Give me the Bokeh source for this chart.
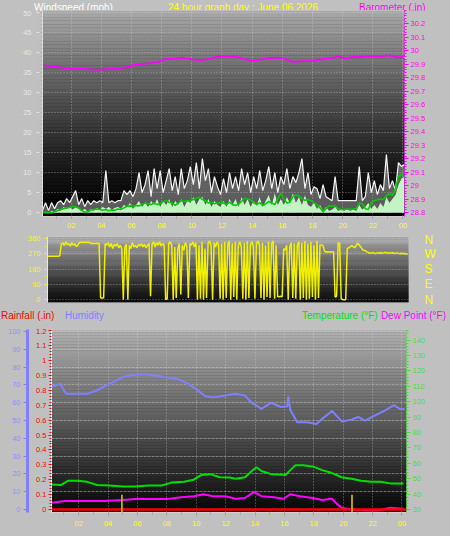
import numpy as np
from bokeh.plotting import figure
from bokeh.layouts import column, row
from bokeh.models import Range1d, LinearAxis, FixedTicker, NumeralTickFormatter, Div
from bokeh.embed import file_html
from bokeh.resources import INLINE

FONT = "Liberation Sans"
BG = "#c0c0c0"
W = 450

# ---------------- data ----------------
hour_ticks = [2, 4, 6, 8, 10, 12, 14, 16, 18, 20, 22, 24]
hour_labels = ["02", "04", "06", "08", "10", "12", "14", "16", "18", "20", "22", "00"]

wind_hours = [round(0.1 + 0.2 * i, 1) for i in range(121)]
wind_gust = [0.5, 2.5, 0.5, 2.5, 1, 2.5, 3, 2, 3.5, 2.5,
             4, 5.5, 2, 3.5, 1.5, 3, 2, 3, 2.5, 3,
             2.5, 10.5, 2.5, 3, 2.5, 3, 3, 5.5, 4.5, 5.5,
             4, 6, 10, 5, 7, 10.5, 4, 11, 6, 10.5,
             5, 8, 11, 5.5, 9, 4.5, 11, 6, 8, 11.5,
             7, 12.5, 6, 13.5, 8, 11, 5, 9, 6.5, 4.5,
             8.5, 5, 10, 6, 9, 5.5, 11, 7, 10, 5,
             9, 6, 10.5, 5.5, 8, 11.5, 6, 10, 5, 9,
             7, 11, 6, 9, 7.5, 10, 13.5, 6, 10, 4.5,
             6.5, 6, 3.5, 7, 4, 3.5, 3, 9, 3, 3,
             3, 3, 3, 3, 3, 11.5, 3, 4, 10, 5,
             8, 4.5, 7, 5.5, 14.5, 6, 8, 5.5, 12.5, 11.5,
             12]
wind_speed = [0, 0.3, 0, 0.5, 0.3, 1, 0.5, 1.5, 1, 1.5,
              0.8, 1.5, 1, 0.5, 1, 0.3, 1, 0.5, 1.2, 0.8,
              1.5, 1, 1.5, 0.8, 1.2, 1.5, 1, 2, 1.5, 2.5,
              1, 2, 3, 1.5, 2.5, 1.5, 3, 2, 3.5, 1.5,
              3, 2, 3.5, 1.5, 3, 2, 3.5, 1.5, 3, 2.5,
              4, 2, 3.5, 4, 2, 3.5, 1.5, 3, 2, 1.5,
              3, 1.5, 3.5, 2, 3.5, 1.5, 4, 2, 3.5, 1.5,
              3, 2, 4, 1.5, 3, 4.5, 2, 5, 2, 3.5,
              2, 4, 2.5, 5, 2.5, 4, 2, 4.5, 2, 1.5,
              2.5, 1, 2, 0.5, 1.5, 0.5, 0.8, 1.5, 0.5, 0.8,
              0.5, 1, 0.5, 0.8, 0.5, 2, 0.8, 1.5, 2.5, 1,
              2, 1, 2.5, 1.5, 4, 2.5, 3.5, 4.5, 7, 8.5,
              9]
wind_avg = [0, 0, 0, 0, 0.2, 0.5, 0.8, 1.0, 1.2, 1.3,
            1.6, 1.4, 1.2, 0.5, 0.1, 0.2, 0.6, 0.8, 0.9, 0.8,
            0.6, 0.8, 0.5, 0.7, 0.6, 0.9, 0.8, 1.2, 1.6, 1.7,
            1.6, 1.8, 1.7, 2.0, 2.4, 2.2, 2.0, 2.4, 2.0, 2.2,
            2.8, 3.0, 2.6, 2.4, 1.8, 2.4, 3.0, 2.8, 3.0, 3.0,
            3.3, 3.6, 3.8, 3.3, 3.0, 2.4, 2.6, 2.2, 2.4, 2.5,
            2.4, 2.0, 2.6, 2.0, 1.8, 2.2, 2.8, 3.6, 3.4, 3.2,
            2.5, 2.0, 2.5, 1.8, 2.2, 2.8, 2.4, 2.0, 3.5, 4.8,
            3.5, 2.4, 2.6, 4.0, 4.4, 4.2, 3.5, 3.1, 3.3, 3.0,
            2.5, 2.0, 1.2, 0.2, 1.0, 1.7, 1.6, 1.8, 1.0, 0.8,
            0.8, 0.9, 0.8, 0.9, 1.0, 2.4, 2.2, 1.0, 0.8, 2.5,
            3.0, 3.2, 3.4, 3.3, 4.2, 4.8, 4.3, 6.0, 9.0, 9.6,
            8.8]

baro_hours = [0.1, 1.19, 1.83, 2.92, 3.75, 4.58, 5.22, 5.86, 6.3, 7.14, 7.78, 8.23,
              8.88, 9.3, 9.95, 10.6, 11.2, 11.62, 12.26, 12.9, 13.35, 14.0, 14.6,
              15.26, 15.9, 16.42, 16.74, 17.38, 18.0, 18.66, 19.3, 19.75, 20.26,
              20.6, 21.2, 21.86, 22.5, 22.9, 23.35, 23.7, 24.05]
baro_values = [29.895, 29.879, 29.867, 29.867, 29.86, 29.867, 29.871, 29.883, 29.9,
               29.907, 29.919, 29.938, 29.943, 29.95, 29.938, 29.931, 29.943, 29.955,
               29.962, 29.96, 29.943, 29.926, 29.938, 29.95, 29.948, 29.931, 29.919,
               29.924, 29.926, 29.94, 29.948, 29.96, 29.943, 29.955, 29.955, 29.962,
               29.957, 29.967, 29.962, 29.95, 29.957]
baro_ticks = [28.8, 28.9, 29.0, 29.1, 29.2, 29.3, 29.4, 29.5, 29.6, 29.7, 29.8,
              29.9, 30.0, 30.1, 30.2]

dir_hours = [round(0.5 + 0.1 * i, 1) for i in range(239)]
wind_dir = [255, 255, 255, 255, 255, 255, 255, 255, 258, 325,
            335, 318, 340, 322, 330, 315, 335, 320, 328, 312,
            322, 336, 338, 338, 338, 338, 338, 338, 335, 330,
            330, 330, 330, 332, 330, 10, 10, 10, 330, 320,
            335, 310, 330, 300, 325, 315, 330, 305, 320, 300,
            0, 310, 325, 0, 320, 300, 335, 310, 320, 305,
            325, 315, 330, 310, 325, 305, 320, 330, 20, 325,
            340, 310, 335, 320, 340, 315, 330, 320, 0, 5,
            330, 340, 320, 0, 310, 10, 300, 330, 30, 320,
            290, 335, 315, 10, 330, 320, 340, 310, 335, 0,
            320, 5, 340, 0, 300, 10, 330, 345, 320, 0,
            335, 310, 340, 320, 5, 330, 0, 340, 10, 320,
            345, 0, 330, 15, 340, 0, 320, 340, 310, 5,
            335, 0, 345, 10, 320, 340, 310, 5, 330, 345,
            320, 10, 335, 0, 320, 15, 340, 10, 330, 345,
            5, 320, 17, 17, 20, 17, 300, 290, 320, 0,
            310, 335, 10, 330, 5, 320, 340, 0, 335, 10,
            345, 0, 330, 5, 340, 15, 320, 0, 345, 10,
            320, 322, 318, 285, 280, 282, 280, 280, 282, 282,
            15, 20, 335, 330, 5, 0, 0, 0, 300, 305,
            310, 318, 312, 305, 320, 332, 320, 310, 295, 290,
            288, 280, 278, 272, 275, 276, 273, 272, 275, 274,
            276, 273, 275, 278, 276, 273, 275, 274, 276, 273,
            272, 275, 272, 270, 273, 270, 271, 268, 269]
dir_ticks = [0, 90, 180, 270, 360]
dir_names = {0: "N", 90: "E", 180: "S", 270: "W", 360: "N"}

hum_hours = [0.15, 0.74, 1.14, 2.59, 3.25, 4.1, 5.02, 5.68, 6.54, 7.39, 8.05, 8.71,
             9.37, 10.03, 10.62, 11.15, 12.0, 12.66, 13.32, 13.78, 14.44, 15.1,
             15.75, 16.2, 16.27, 16.4, 16.87, 17.53, 18.19, 18.58, 19.24, 19.9,
             20.56, 21.02, 21.48, 22.14, 22.8, 23.46, 23.85, 24.18]
humidity = [69, 70.6, 65, 65, 67, 70.6, 74.5, 75.5, 76, 75, 74, 73.4, 71, 67.4,
            63.6, 63, 64, 65, 64, 60, 56.5, 60, 57.6, 58, 63.6, 56, 49, 49, 48, 51,
            55.4, 49.5, 50.5, 52, 50, 52.7, 55.4, 58.7, 56.5, 56.5]

temp_hours = [0.15, 0.81, 1.27, 1.93, 2.59, 3.25, 4.1, 5.02, 5.88, 6.73, 7.66, 8.31,
              9.17, 9.83, 10.36, 10.95, 11.61, 12.27, 12.66, 13.32, 13.78, 14.1,
              14.44, 15.1, 16.08, 16.4, 16.74, 17.27, 17.93, 18.58, 19.24, 19.9,
              20.56, 21.22, 21.88, 22.53, 23.19, 24.11]
temperature = [46.2, 46, 48.7, 48.7, 48, 46, 45.6, 45, 45, 45.6, 45.6, 47.5, 48,
               49.4, 52.5, 53, 51, 50.8, 50, 51, 55, 57.5, 55, 53, 52.5, 55.6, 58.7,
               58.7, 58, 55.6, 53.7, 51, 50, 48.7, 48, 48, 47, 47]

dew_hours = [0.15, 1.07, 2.39, 3.71, 5.02, 5.88, 7.2, 8.05, 8.97, 9.83, 10.49, 11.15,
             12.0, 12.66, 13.32, 13.78, 13.98, 14.44, 15.29, 15.95, 16.41, 17.07,
             17.93, 18.58, 19.24, 19.57, 19.9, 20.56, 21.48, 22.34, 23.19, 24.11]
dewpoint = [34.4, 35.6, 35.6, 35.6, 36.2, 36.9, 36.9, 36.9, 38, 38.7, 40, 38.7,
            38.7, 37, 37.5, 40.6, 41.2, 38.7, 38, 37, 40, 38.7, 37.5, 36.2, 37,
            33.7, 31.2, 30, 29.4, 29.4, 31.2, 30.6]

rain_hours = [0.15, 24.31]
rainfall = [0.0, 0.0]
rain_mark_hours = [4.94, 20.6]
rain_mark_values = [0.1, 0.1]


# ---------------- helpers ----------------
def gradient(p, y0, y1, top, bottom, gamma=1.0, n=60):
    edges = np.linspace(y1, y0, n + 1)
    t = (np.arange(n) + 0.5) / n
    g = bottom + (top - bottom) * (1 - t) ** gamma
    cols = ["#%02x%02x%02x" % (int(v), int(v), int(v)) for v in g]
    p.quad(left=-5, right=30, top=edges[:-1], bottom=edges[1:], fill_color=cols,
           line_color=cols, line_width=0.5, level="image")


def style_axis(ax, color, size="7.5px"):
    ax.major_label_text_font = FONT
    ax.major_label_text_font_size = size
    ax.major_label_text_color = color


def style_grid(g, dash="1 2", alpha=0.55):
    g.grid_line_color = "#d8d8d8"
    g.grid_line_dash = dash
    g.grid_line_alpha = alpha


def base_fig(h, xr, yr, bl, br, bt, bb, **kw):
    return figure(width=W, height=h, x_range=xr, y_range=yr, output_backend="svg",
                  toolbar_location=None, title=None, min_border_left=bl,
                  min_border_right=br, min_border_top=bt, min_border_bottom=bb,
                  background_fill_color="black", border_fill_color=BG,
                  outline_line_color="#d0d0d0", **kw)


def span(text, color, left=None, right=None, center=None, top=0):
    pos = ""
    if left is not None:
        pos = f"left:{left}px;"
    if right is not None:
        pos = f"right:{right}px;"
    if center is not None:
        pos = f"left:{center}px;transform:translateX(-50%);"
    return (f'<span style="position:absolute;{pos}top:{top}px;color:{color};'
            f'white-space:nowrap;">{text}</span>')


def title_div(h, spans):
    html = (f'<div style="position:relative;width:{W}px;height:{h}px;'
            f"font-family:'{FONT}';font-size:10px;line-height:12px;overflow:visible;\">"
            + "".join(spans) + "</div>")
    return Div(text=html, width=W, height=h, margin=(0, 0, 0, 0),
               styles={"background-color": BG, "overflow": "visible"})


# ---------------- panel 1: wind + barometer ----------------
p1 = base_fig(222, Range1d(0.1, 24.1), Range1d(-0.96, 50.48), 42, 46, 0, 16)
gradient(p1, -0.96, 50.48, 170, 0, gamma=1.3)
p1.extra_y_ranges = {"baro": Range1d(28.771, 30.3)}

xa = p1.xaxis[0]
xa.ticker = FixedTicker(ticks=hour_ticks, minor_ticks=list(range(0, 25)))
xa.major_label_overrides = dict(zip(hour_ticks, hour_labels))
style_axis(xa, "#ffff00")
xa.axis_line_color = "#d0d0d0"
xa.major_tick_out = 2
xa.major_tick_in = 0
xa.minor_tick_out = 2
xa.minor_tick_in = 0
xa.major_tick_line_color = "#a0a0a0"
xa.minor_tick_line_color = "#a0a0a0"
xa.major_label_standoff = 4

ya = p1.yaxis[0]
ya.ticker = FixedTicker(ticks=list(range(0, 51, 5)), minor_ticks=list(range(0, 51)))
style_axis(ya, "#e8e8e8")
ya.axis_line_color = "#e0e0e0"
ya.major_tick_line_color = "#e0e0e0"
ya.minor_tick_line_color = "#b8b8b8"
ya.major_tick_out = 6
ya.major_tick_in = 0
ya.minor_tick_out = 3
ya.minor_tick_in = 0
ya.major_label_standoff = 5

bax = LinearAxis(y_range_name="baro",
                 ticker=FixedTicker(ticks=baro_ticks,
                                    minor_ticks=[round(28.8 + 0.02 * i, 2) for i in range(76)]),
                 formatter=NumeralTickFormatter(format="0.[0]"))
style_axis(bax, "#ff00ff")
bax.axis_line_color = "#ff00ff"
bax.axis_line_dash = "2 2"
bax.major_tick_line_color = "#ff00ff"
bax.minor_tick_line_color = "#ff00ff"
bax.major_tick_out = 4
bax.major_tick_in = 0
bax.minor_tick_out = 2
bax.minor_tick_in = 0
bax.major_label_standoff = 2
p1.add_layout(bax, "right")

p1.xgrid.ticker = FixedTicker(ticks=hour_ticks)
p1.ygrid.ticker = FixedTicker(ticks=list(range(0, 51, 5)))
style_grid(p1.xgrid[0])
style_grid(p1.ygrid[0])

p1.varea(x=wind_hours, y1=wind_speed, y2=wind_gust, fill_color="#c8c8c8", fill_alpha=0.45)
p1.line(wind_hours, wind_gust, line_color="#f4f4f4", line_width=1.2)
p1.varea(x=wind_hours, y1=[0] * len(wind_speed), y2=wind_speed, fill_color="#c4f4c4")
p1.line(wind_hours, wind_avg, line_color="#00cc00", line_width=1.6)
p1.line(baro_hours, baro_values, y_range_name="baro", line_color="#ff00ff", line_width=1.8)

div1 = title_div(10, [
    span("Windspeed (mph)", "#ffffff", left=34, top=0),
    span("24 hour graph day : June 06 2026", "#ffff00", center=243, top=0),
    span("Barometer (.in)", "#ff00ff", left=359, top=0),
])

# ---------------- panel 2: wind direction ----------------
p2 = base_fig(75, Range1d(0.49, 24.35), Range1d(-16.9, 371.3), 47, 42, 4, 5,
              x_axis_location=None)
gradient(p2, -16.9, 371.3, 182, 12, gamma=1.1)
ya2 = p2.yaxis[0]
ya2.ticker = FixedTicker(ticks=dir_ticks, minor_ticks=[0, 45, 90, 135, 180, 225, 270, 315, 360])
style_axis(ya2, "#f0f040")
ya2.axis_line_color = "#e8e8e8"
ya2.major_tick_line_color = "#f0f040"
ya2.minor_tick_line_color = "#f0f040"
ya2.major_tick_out = 3
ya2.major_tick_in = 0
ya2.minor_tick_out = 2
ya2.minor_tick_in = 0
ya2.major_label_standoff = 4

nax = LinearAxis(ticker=FixedTicker(ticks=dir_ticks), major_label_overrides=dir_names)
style_axis(nax, "#ffff00", "12px")
nax.axis_line_color = None
nax.major_tick_line_color = None
nax.minor_tick_line_color = None
nax.major_label_standoff = 10
p2.add_layout(nax, "right")

p2.xgrid.visible = False
p2.ygrid.ticker = FixedTicker(ticks=dir_ticks)
style_grid(p2.ygrid[0])

p2.line(dir_hours, wind_dir, line_color="#f0f000", line_width=1.5)

# ---------------- panel 3: rain / humidity / temperature / dew point ----------------
p3 = base_fig(208, Range1d(0.15, 24.31), Range1d(-0.0195, 1.208), 51, 44, 1, 24)
gradient(p3, -0.0195, 1.208, 178, 6, gamma=1.0)
p3.extra_y_ranges = {"hum": Range1d(-1.63, 101.1), "temp": Range1d(28.1, 146.9)}

xa3 = p3.xaxis[0]
xa3.ticker = FixedTicker(ticks=hour_ticks, minor_ticks=list(range(0, 25)))
xa3.major_label_overrides = dict(zip(hour_ticks, hour_labels))
style_axis(xa3, "#ffff00")
xa3.axis_line_color = "#d0d0d0"
xa3.major_tick_out = 3
xa3.major_tick_in = 0
xa3.minor_tick_out = 2
xa3.minor_tick_in = 0
xa3.major_tick_line_color = "#a0a0a0"
xa3.minor_tick_line_color = "#a0a0a0"
xa3.major_label_standoff = 5

ra = p3.yaxis[0]
rain_ticks = [0, 0.1, 0.2, 0.3, 0.4, 0.5, 0.6, 0.7, 0.8, 0.9, 1.0, 1.1, 1.2]
ra.ticker = FixedTicker(ticks=rain_ticks,
                        minor_ticks=[round(0.02 * i, 2) for i in range(61)])
ra.formatter = NumeralTickFormatter(format="0.[0]")
style_axis(ra, "#ff0000")
ra.axis_line_color = "#ffffff"
ra.major_tick_line_color = "#ff0000"
ra.minor_tick_line_color = "#ff0000"
ra.major_tick_out = 3
ra.major_tick_in = 0
ra.minor_tick_out = 2
ra.minor_tick_in = 0
ra.major_label_standoff = 2
ra.axis_label = " "
ra.axis_label_text_font_size = "2px"
ra.axis_label_standoff = 0

hax = LinearAxis(y_range_name="hum", ticker=FixedTicker(ticks=list(range(0, 101, 10))))
style_axis(hax, "#9090ff")
hax.axis_line_color = "#8080ff"
hax.axis_line_width = 3
hax.major_tick_line_color = "#8080ff"
hax.minor_tick_line_color = None
hax.major_tick_out = 4
hax.major_tick_in = 0
hax.major_label_standoff = 3
p3.add_layout(hax, "left")

tax = LinearAxis(y_range_name="temp",
                 ticker=FixedTicker(ticks=list(range(30, 141, 10)),
                                    minor_ticks=list(range(28, 147, 2))))
style_axis(tax, "#40e040")
tax.axis_line_color = "#40e040"
tax.axis_line_dash = "2 2"
tax.major_tick_line_color = "#40e040"
tax.minor_tick_line_color = "#40e040"
tax.major_tick_out = 4
tax.major_tick_in = 0
tax.minor_tick_out = 2
tax.minor_tick_in = 0
tax.major_label_standoff = 2
p3.add_layout(tax, "right")

p3.xgrid.ticker = FixedTicker(ticks=hour_ticks)
p3.ygrid.ticker = FixedTicker(ticks=list(range(10, 101, 10)))
p3.ygrid.y_range_name = "hum"
style_grid(p3.xgrid[0])
style_grid(p3.ygrid[0], dash="3 1", alpha=0.45)

p3.line(hum_hours, humidity, y_range_name="hum", line_color="#8080ff", line_width=2)
p3.line(temp_hours, temperature, y_range_name="temp", line_color="#00e000", line_width=2)
p3.line(dew_hours, dewpoint, y_range_name="temp", line_color="#ff00ff", line_width=2)
p3.line(rain_hours, rainfall, line_color="#ff0000", line_width=2.5)
p3.vbar(x=rain_mark_hours, top=rain_mark_values, bottom=-0.02, width=0.12,
        fill_color="#c8b400", line_color=None)

div3 = title_div(21, [
    span("Rainfall (.in)", "#ff0000", left=1, top=3),
    span("Humidity", "#8080ff", left=65, top=3),
    span("Temperature (°F)", "#00e000", left=302, top=3),
    span("Dew Point (°F)", "#ff00ff", right=4, top=3),
])

layout = column(div1, row(p1, spacing=0), row(p2, spacing=0), div3, row(p3, spacing=0),
                spacing=0, styles={"background-color": BG})
open("out.html", "w").write(file_html(layout, INLINE))
